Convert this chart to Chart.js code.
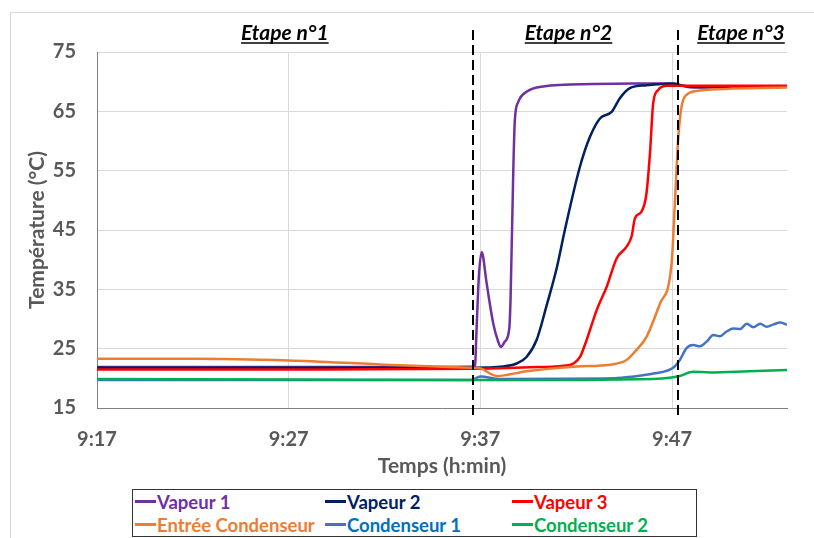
<!DOCTYPE html>
<html lang="fr">
<head>
  <meta charset="UTF-8" />
  <title>Températures</title>
  <script src="https://cdn.jsdelivr.net/npm/chart.js"></script>
  <style>
    body { margin: 0; background: #fff; font-family: Lato, "Open Sans", sans-serif; }
    #wrap { position: relative; width: 814px; height: 538px; overflow: hidden; }
    #frame { position: absolute; left: 10px; top: 12px; width: 820px; height: 540px;
             border-left: 1px solid #d9d9d9; border-top: 1px solid #d9d9d9; }
    #chart { position: absolute; left: 0; top: 0; }
    #legend { position: absolute; left: 132px; top: 489px; width: 561px; height: 46px;
              border: 1.5px solid #333; background: #fff; padding-left: 2px;
              display: grid; grid-template-columns: 190px 187px auto; grid-auto-rows: 23px 23px;
              align-items: center; font-weight: bold; font-size: 18.5px; }
    .item { display: flex; align-items: center; white-space: nowrap; }
    .mk { display: inline-block; width: 21px; height: 2.5px; margin-right: 1px; }
  </style>
</head>
<body>
  <div id="wrap">
    <div id="frame"></div>
    <canvas id="chart" width="814" height="538"></canvas>
    <div id="legend"></div>
  </div>

  <script>
    // temps en minutes depuis 9:17
    const tickValues = [0, 10, 20, 30];
    const tickLabels = ['9:17', '9:27', '9:37', '9:47'];

    const etapeLabels = ['Etape n°1', 'Etape n°2', 'Etape n°3'];
    const etapeCentres = [9.8, 24.6, 33.6];
    const etapeLimites = [19.6, 30.33];

    const seriesNames = ['Vapeur 1', 'Vapeur 2', 'Vapeur 3', 'Entrée Condenseur', 'Condenseur 1', 'Condenseur 2'];
    const lineColors = ['#7030A0', '#002060', '#FF0000', '#ED7D31', '#4472C4', '#00B050'];
    const textColors = ['#7030A0', '#002060', '#FF0000', '#ED7D31', '#0070C0', '#00B050'];

    const tVapeur1 = [0, 5, 10, 15, 19.72, 19.8, 19.92, 20.07, 20.33, 20.67, 20.93, 21.07, 21.28, 21.51, 21.58, 21.72, 21.8, 21.98, 22.41, 23.28, 25.87, 27.96, 29.89, 30.41, 31.1, 33, 36];
    const vapeur1 = [21.9, 21.9, 21.9, 21.9, 22.0, 28, 37, 41.3, 36.0, 29.3, 26.2, 25.3, 26.2, 28.4, 33.8, 55.1, 63.5, 66.6, 68.3, 69.2, 69.6, 69.7, 69.7, 69.4, 69.0, 69.1, 69.2];

    const tVapeur2 = [0, 10, 19.5, 21.19, 21.89, 22.41, 22.94, 23.46, 23.98, 24.41, 25.2, 25.72, 26.24, 26.85, 27.28, 27.8, 28.67, 30.06, 30.6, 31.5, 36];
    const vapeur2 = [21.8, 21.8, 21.8, 22.0, 22.5, 23.6, 26.5, 32.3, 38.5, 45.0, 55.7, 60.7, 63.8, 64.9, 67.2, 68.9, 69.4, 69.7, 69.3, 69.1, 69.2];

    const tVapeur3 = [0, 10, 19.5, 21, 23, 24.6, 24.9, 25.2, 25.55, 26.07, 26.59, 27.11, 27.63, 27.89, 28.07, 28.41, 28.67, 28.85, 29.02, 29.28, 29.72, 32, 36];
    const vapeur3 = [21.5, 21.5, 21.6, 21.7, 21.9, 22.2, 22.6, 23.6, 26.5, 31.5, 35.4, 40.2, 42.2, 43.9, 47.0, 48.1, 51.2, 57.9, 66.4, 68.6, 69.3, 69.3, 69.3];

    const tEntree = [0, 5, 10, 15, 19.5, 19.98, 20.85, 22.41, 25.02, 26.76, 27.63, 28.15, 28.67, 29.37, 29.98, 30.15, 30.33, 30.5, 30.76, 31.46, 36];
    const entree = [23.3, 23.3, 23.0, 22.3, 21.8, 21.7, 20.4, 21.2, 22.0, 22.3, 23.1, 24.8, 27.0, 32.6, 39.4, 49.5, 60.7, 65.8, 67.8, 68.5, 69.0];

    const tCond1 = [0, 10, 19.5, 20.0, 21, 27, 28, 29.02, 30.06, 30.41, 30.76, 31.11, 31.46, 31.81, 32.16, 32.5, 32.85, 33.2, 33.55, 33.9, 34.24, 34.6, 34.94, 35.3, 35.65, 36];
    const cond1 = [19.7, 19.7, 19.7, 20.3, 19.9, 20.0, 20.3, 20.8, 21.8, 23.1, 25.1, 25.6, 25.4, 26.2, 27.3, 27.1, 27.9, 28.4, 28.3, 29.2, 28.6, 29.2, 28.7, 29.1, 29.4, 29.0];

    const tCond2 = [0, 10, 20, 29, 30.06, 30.4, 31.1, 32, 34, 36];
    const cond2 = [19.9, 19.8, 19.7, 19.9, 20.2, 20.4, 21.1, 21.0, 21.2, 21.4];

    const allT = [tVapeur1, tVapeur2, tVapeur3, tEntree, tCond1, tCond2];
    const allV = [vapeur1, vapeur2, vapeur3, entree, cond1, cond2];

    const datasets = seriesNames.map((name, i) => ({
      label: name,
      data: allT[i].map((t, k) => ({ x: t, y: allV[i][k] })),
      borderColor: lineColors[i],
      borderWidth: 2.5,
      pointRadius: 0,
      cubicInterpolationMode: 'monotone',
      order: 5 - i
    }));

    // légende en html
    const legend = document.getElementById('legend');
    seriesNames.forEach((name, i) => {
      legend.innerHTML += `<div class="item"><span class="mk" style="background:${lineColors[i]}"></span><span style="color:${textColors[i]}">${name}</span></div>`;
    });

    const axisFont = { family: 'Lato', weight: 'bold', size: 20 };
    const titleFont = { family: 'Lato', weight: 'bold', size: 21 };

    const etapesPlugin = {
      id: 'etapes',
      afterDatasetsDraw(chart) {
        const { ctx, chartArea, scales: { x } } = chart;
        ctx.save();
        ctx.strokeStyle = '#000';
        ctx.lineWidth = 2;
        ctx.setLineDash([10, 5]);
        etapeLimites.forEach(v => {
          const px = Math.round(x.getPixelForValue(v));
          ctx.beginPath();
          ctx.moveTo(px, chartArea.top - 22);
          ctx.lineTo(px, chartArea.bottom + 8);
          ctx.stroke();
        });
        ctx.setLineDash([]);
        ctx.font = 'italic bold 21px Lato, "Open Sans", sans-serif';
        ctx.fillStyle = '#000';
        ctx.textAlign = 'center';
        ctx.textBaseline = 'alphabetic';
        etapeLabels.forEach((txt, i) => {
          const cx = x.getPixelForValue(etapeCentres[i]);
          const y = chartArea.top - 12;
          ctx.fillText(txt, cx, y);
          const w = ctx.measureText(txt).width;
          ctx.lineWidth = 1.6;
          ctx.beginPath();
          ctx.moveTo(cx - w / 2, y + 3);
          ctx.lineTo(cx + w / 2, y + 3);
          ctx.stroke();
        });
        ctx.restore();
      }
    };

    new Chart(document.getElementById('chart').getContext('2d'), {
      type: 'line',
      data: { datasets },
      options: {
        responsive: false,
        animation: false,
        layout: { padding: { left: 20, right: 27, top: 52, bottom: 50 } },
        plugins: { legend: { display: false }, tooltip: { enabled: false } },
        scales: {
          x: {
            type: 'linear',
            min: 0,
            max: 36,
            afterBuildTicks: s => { s.ticks = tickValues.map(v => ({ value: v })); },
            afterFit: s => { s.height = 80; },
            grid: { color: '#d9d9d9', drawTicks: false },
            border: { color: '#808080', width: 1 },
            ticks: {
              padding: 20,
              color: '#595959',
              font: axisFont,
              callback: (v, i) => tickLabels[i]
            },
            title: {
              display: true,
              text: 'Temps (h:min)',
              color: '#595959',
              font: titleFont,
              padding: { top: 4, bottom: 9 }
            }
          },
          y: {
            min: 15,
            max: 75,
            afterFit: s => { s.width = 77; },
            grid: { color: '#d9d9d9', drawTicks: false },
            border: { color: '#808080', width: 1 },
            ticks: {
              stepSize: 10,
              padding: 21,
              color: '#595959',
              font: axisFont
            },
            title: {
              display: true,
              text: 'Température (°C)',
              color: '#595959',
              font: titleFont,
              padding: { top: 5, bottom: 4 }
            }
          }
        }
      },
      plugins: [etapesPlugin]
    });
  </script>
</body>
</html>
